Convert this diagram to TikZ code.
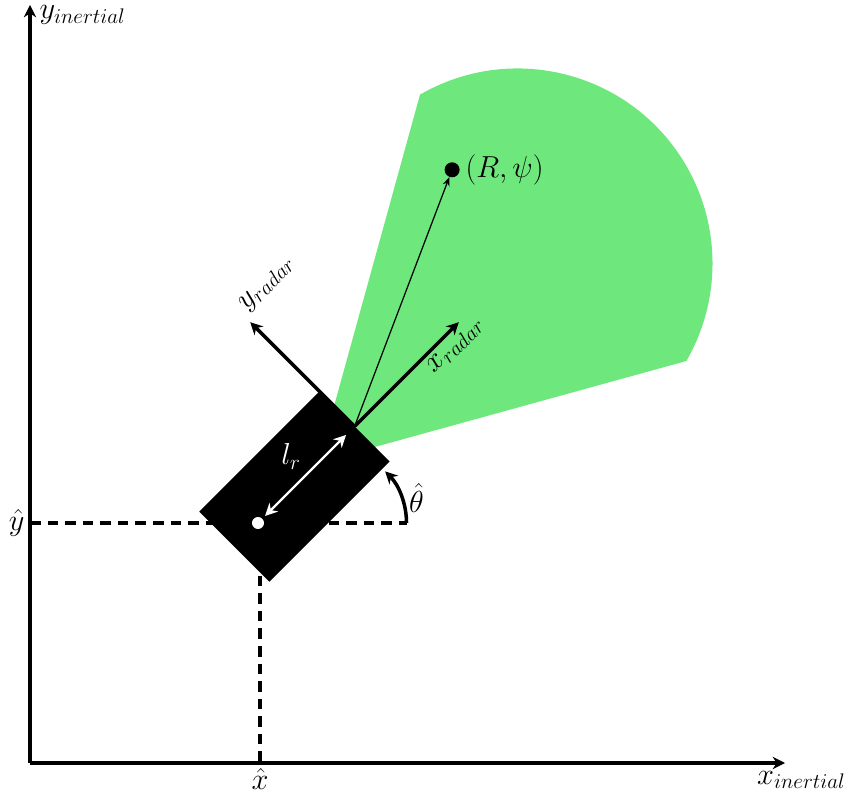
\documentclass[tikz,border=0pt]{standalone}
\usepackage{amsmath}
\usepackage{amssymb}
\usepackage{xcolor}
\usepackage{tikz}
\usetikzlibrary{positioning,arrows.meta,calc}
\definecolor{radargreen}{HTML}{6EE87C}

\begin{document}
\begin{tikzpicture}[
  axis/.style={
    line width=2pt, -{Stealth[length=7pt,width=7pt]}
  },
  guide/.style={
    line width=2pt, dash pattern=on 6pt off 4pt
  },
  lbl/.style={
    font=\fontsize{16.5}{19}\selectfont, inner sep=3pt
  }
]
\useasboundingbox (-0.6,-0.62) rectangle (16.38,15.26);

% Ejes inerciales
\coordinate (O) at (0,0);
\coordinate (xend) at (15.1,0);
\coordinate (yend) at (0,15.16);
\draw[axis] (O) -- (xend);
\draw[axis] (O) -- (yend);
\node[lbl, anchor=north] (xlab) at (15.43,-0.05) {$x_{inertial}$};
\node[lbl, anchor=west] (ylab) at (0.08,14.96) {$y_{inertial}$};

% Posicion del vehiculo
\coordinate (car) at (4.56,4.8);
\coordinate (xhat) at (4.6,0);
\coordinate (xtop) at (4.6,4.8);
\coordinate (yhat) at (0,4.8);
\coordinate (thetac) at (6.07,4.8);
\coordinate (thetas) at (7.53,4.8);

% Lineas de referencia
\draw[guide] (yhat) -- (thetas);
\draw[guide] (xtop) -- (xhat);

\begin{scope}[shift={(car)}, rotate=45]
  \coordinate (radar) at (2.73,0);
  \coordinate (apex) at (1.71,0);
  \coordinate (fovc) at (7.34,0);
  \coordinate (xr) at (5.68,0);
  \coordinate (yr) at (2.73,2.95);
  % Campo de vision del radar
  \fill[radargreen] (apex) -- ($(fovc)+(75:3.9)$)
    arc[start angle=75, end angle=-75, radius=3.9] -- cycle;
  \draw[axis] (radar) -- (yr);
  % Vehiculo
  \fill[black] (-0.67,-0.99) rectangle (2.73,0.99);
  \fill[white] (0,0) circle (0.12);
  \draw[white, line width=1.4pt,
    {Stealth[length=7pt,width=7pt]}-{Stealth[length=7pt,width=7pt]},
    shorten <=0.2cm, shorten >=0.24cm] (car) -- (radar)
    node[lbl, midway, above left=-1pt, text=white] (lr) {$l_r$};
  \draw[axis] (radar) -- (xr);
  \node[lbl, rotate=45, anchor=north] (xrlab) at (2.73+2.57,0) {$x_{radar}$};
  \node[lbl, rotate=45, anchor=south west] (yrlab) at (yr) {$y_{radar}$};
  % Objetivo
  \node[circle, fill=black, inner sep=0pt, minimum size=0.3cm] (target) at (7.74,2.25) {};
\end{scope}

\draw[line width=0.7pt, -{Stealth[length=5pt,width=4pt]}] (radar) -- (target);
\node[lbl, right=0pt of target] (tlab) {$(R,\psi)$};

% Angulo de orientacion
\draw[line width=2pt, -{Stealth[length=7pt,width=7pt]}] (thetas)
  arc[start angle=0, end angle=45, radius=1.46]
  node[lbl, pos=0.45, right] (thlab) {$\hat{\theta}$};

% Etiquetas de posicion
\node[lbl, below] (xhlab) at (xhat) {$\hat{x}$};
\node[lbl, left] (yhlab) at (yhat) {$\hat{y}$};
\end{tikzpicture}
\end{document}
